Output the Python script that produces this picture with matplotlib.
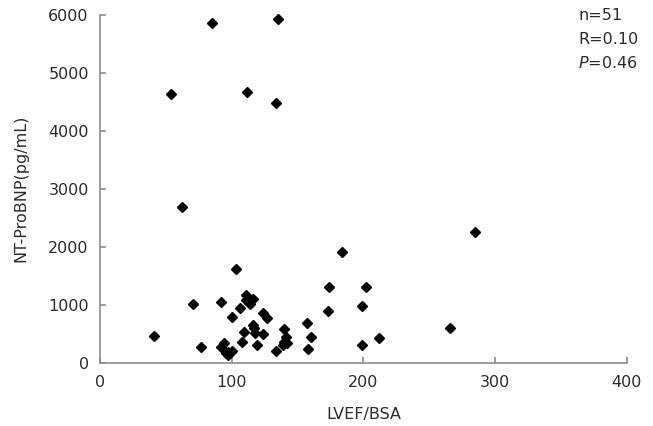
import matplotlib
matplotlib.use("Agg")
import matplotlib.pyplot as plt

# LVEF/BSA vs NT-ProBNP
lvef_bsa = [41, 54, 62, 71, 77, 85, 92, 92, 94, 97, 100, 97, 100, 103, 106,
            108, 109, 111, 111, 114, 116, 114, 112, 116, 117, 118, 119, 124,
            127, 124, 134, 134, 135, 140, 141, 140, 142, 139, 157, 160, 158,
            173, 174, 184, 199, 202, 199, 212, 266, 285, 96]
nt_probnp = [455, 4628, 2690, 1012, 266, 5862, 1052, 266, 345, 190, 207, 133,
             783, 1620, 938, 352, 535, 1167, 1081, 1081, 1098, 1012, 4667, 650,
             593, 517, 305, 852, 766, 495, 207, 4472, 5931, 581, 448, 362, 334,
             305, 690, 448, 231, 897, 1310, 1907, 983, 1310, 305, 420, 600,
             2245, 160]

x_ticks = [0, 100, 200, 300, 400]
y_ticks = [0, 1000, 2000, 3000, 4000, 5000, 6000]
stats_lines = ["n=51", "R=0.10", r"$\it{P}$=0.46"]

plt.rcParams['font.family'] = ['DejaVu Sans']
plt.rcParams['mathtext.fontset'] = 'dejavusans'

fig = plt.figure(figsize=(6.53, 4.26), dpi=100)
ax = fig.add_axes([0.153, 0.1486, 0.807, 0.8169])

ax.plot(lvef_bsa, nt_probnp, linestyle='none', marker='D', markersize=5.2,
        color='black', clip_on=False)

ax.set_xlim(0, 400)
ax.set_ylim(0, 6000)
ax.set_xticks(x_ticks)
ax.set_yticks(y_ticks)

gris = '#8c8c8c'
texto = '#2b2b2b'
for lado in ['top', 'right']:
    ax.spines[lado].set_visible(False)
for lado in ['left', 'bottom']:
    ax.spines[lado].set_color(gris)
    ax.spines[lado].set_linewidth(1.2)
ax.tick_params(direction='in', length=4, width=1.2, color=gris,
               labelsize=11.5, labelcolor=texto)
ax.tick_params(axis='x', pad=9)
ax.tick_params(axis='y', pad=8)

ax.set_xlabel('LVEF/BSA', fontsize=11.5, color=texto, labelpad=12)
ax.set_ylabel('NT-ProBNP(pg/mL)', fontsize=11.5, color=texto, labelpad=14)

for i, linea in enumerate(stats_lines):
    fig.text(578 / 653, 1 - (16 + 23.5 * i) / 426, linea, fontsize=11.5,
             color=texto, ha='left', va='center')

fig.savefig('out.png', dpi=100)
